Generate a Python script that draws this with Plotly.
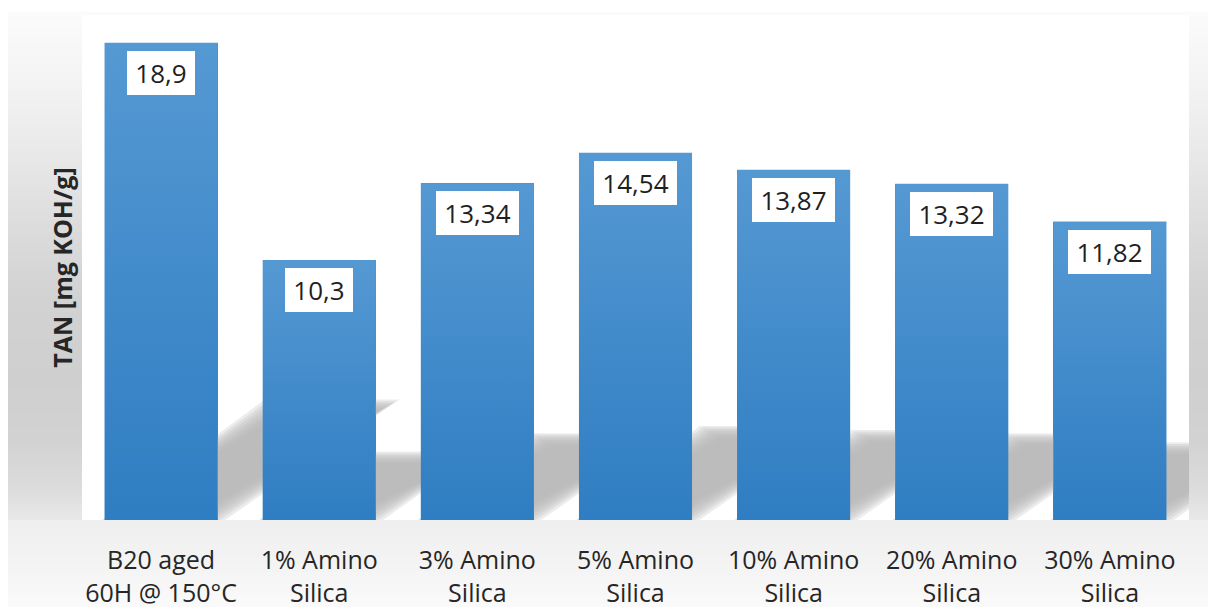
import plotly.graph_objects as go

# ---- data -------------------------------------------------------------
categories = [
    "B20 aged<br>60H @ 150°C",
    "1% Amino<br>Silica",
    "3% Amino<br>Silica",
    "5% Amino<br>Silica",
    "10% Amino<br>Silica",
    "20% Amino<br>Silica",
    "30% Amino<br>Silica",
]
tan_values = [18.9, 10.3, 13.34, 14.54, 13.87, 13.32, 11.82]
y_axis_title = "TAN [mg KOH/g]"

# ---- geometry ---------------------------------------------------------
FIG_W, FIG_H = 1208, 610
M_L, M_R, M_T, M_B = 82, 19, 15, 90
Y_MAX = 20
plot_w = FIG_W - M_L - M_R
plot_h = FIG_H - M_T - M_B
px_per_x = plot_w / len(categories)
px_per_y = plot_h / Y_MAX

idx = list(range(len(categories)))
BAR_W = 0.715
half = BAR_W / 2

FONT = "Open Sans"
TEXT_COLOR = "#262626"
BAR_BOTTOM = "#2f7dc2"
BAR_TOP = "#5599d3"

# value labels use a decimal comma
value_labels = [f"{v:g}".replace(".", ",") for v in tan_values]

# ---- perspective shadow behind each bar --------------------------------
SHADOW_RISE = 0.24    # shadow height relative to bar height
SHADOW_SLOPE = 0.67   # vertical px per horizontal px along the slanted sides
SIN_SIDE = 0.556      # sine of the slanted side angle
FOOT_INSET = 12       # px the shadow's lower right corner sits inside the bar


def shadow_outline(i, v, e_px):
    """Shadow quadrilateral of one bar, grown (e>0) or shrunk (e<0) by e px."""
    ex = e_px / SIN_SIDE / px_per_x
    ey = e_px / px_per_y
    hs = SHADOW_RISE * v
    dx = hs * px_per_y / SHADOW_SLOPE / px_per_x
    inset = FOOT_INSET / px_per_x
    x0, x1 = i - half, i + half
    xs = [x0 - ex, x1 - inset + ex, x1 + dx + ex, x0 + dx - ex, x0 - ex]
    ys = [-ey, -ey, hs + ey, hs + ey, -ey]
    return xs, ys


fig = go.Figure()

# soft edge built from stacked translucent layers
blur_steps = [-6 + 12 * k / 7 for k in range(8)]
for e in blur_steps:
    for i, v in zip(idx, tan_values):
        sx, sy = shadow_outline(i, v, e)
        fig.add_trace(go.Scatter(
            x=sx, y=sy, mode="lines", fill="toself",
            fillcolor="rgba(180,182,181,0.26)", line=dict(width=0),
            hoverinfo="skip", showlegend=False,
        ))

# bars
fig.add_trace(go.Bar(
    x=idx, y=tan_values, width=BAR_W,
    marker=dict(color="#4189cb", line=dict(width=0)),
    hoverinfo="x+y", showlegend=False,
))

# vertical gradient on each bar (scatter layer sits above the shadows)
for i, v in zip(idx, tan_values):
    fig.add_trace(go.Scatter(
        x=[i - half, i + half, i + half, i - half, i - half],
        y=[0, 0, v, v, 0],
        mode="lines", fill="toself", line=dict(width=0),
        fillgradient=dict(type="vertical", start=0, stop=v,
                          colorscale=[[0, BAR_BOTTOM], [1, BAR_TOP]]),
        hoverinfo="skip", showlegend=False,
    ))

# value boxes near the top of each bar
for i, v, lab in zip(idx, tan_values, value_labels):
    fig.add_annotation(
        x=i, y=v, xref="x", yref="y", text=lab, showarrow=False,
        yanchor="top", yshift=-8,
        bgcolor="white", borderpad=0, borderwidth=0,
        width=15 * len(lab) + 8, height=44,
        font=dict(family=FONT, size=26, color="#1f1f1f"),
    )

# ---- grey gradient frame around the plot area ---------------------------
def paper_x(px):
    return (px - M_L) / plot_w


def paper_y(py):
    return (FIG_H - M_B - py) / plot_h


grey_stops = [
    (12, 251), (60, 246), (120, 238), (180, 228), (240, 218), (300, 210),
    (380, 207), (440, 210), (490, 220), (520, 233), (522, 239),
    (560, 243), (607, 250),
]


def grey_at(py):
    for (y0, g0), (y1, g1) in zip(grey_stops, grey_stops[1:]):
        if y0 <= py <= y1:
            t = (py - y0) / (y1 - y0) if y1 > y0 else 0
            return g0 + (g1 - g0) * t
    return grey_stops[-1][1]


shapes = []
step = 4
y = 12
while y < 607:
    y_next = min(y + step, 607)
    g = int(round(grey_at((y + y_next) / 2)))
    shapes.append(dict(
        type="rect", xref="paper", yref="paper", layer="below",
        x0=paper_x(8), x1=paper_x(FIG_W + 2),
        y0=paper_y(y_next), y1=paper_y(y),
        fillcolor=f"rgb({g},{g},{g})", line=dict(width=0),
    ))
    y = y_next

# white plotting area on top of the frame
shapes.append(dict(
    type="rect", xref="paper", yref="paper", layer="below",
    x0=0, x1=1, y0=0, y1=1, fillcolor="white", line=dict(width=0),
))

fig.update_layout(
    width=FIG_W, height=FIG_H,
    margin=dict(l=M_L, r=M_R, t=M_T, b=M_B, pad=0, autoexpand=False),
    paper_bgcolor="white", plot_bgcolor="white",
    shapes=shapes,
    showlegend=False,
    bargap=0,
    xaxis=dict(
        range=[-0.5, len(categories) - 0.5],
        tickmode="array", tickvals=idx, ticktext=categories,
        tickfont=dict(family=FONT, size=25, color=TEXT_COLOR),
        ticks="", showline=False, showgrid=False, zeroline=False,
        ticklabelstandoff=23, fixedrange=True, automargin=False,
    ),
    yaxis=dict(
        range=[0, Y_MAX],
        showticklabels=False, ticks="", showline=False,
        showgrid=False, zeroline=False, fixedrange=True,
        title=dict(text=y_axis_title, standoff=1,
                   font=dict(family=FONT, size=25, color=TEXT_COLOR,
                             weight="bold")),
        automargin=False,
    ),
)

fig.write_html("out.html", config={"displayModeBar": False})
